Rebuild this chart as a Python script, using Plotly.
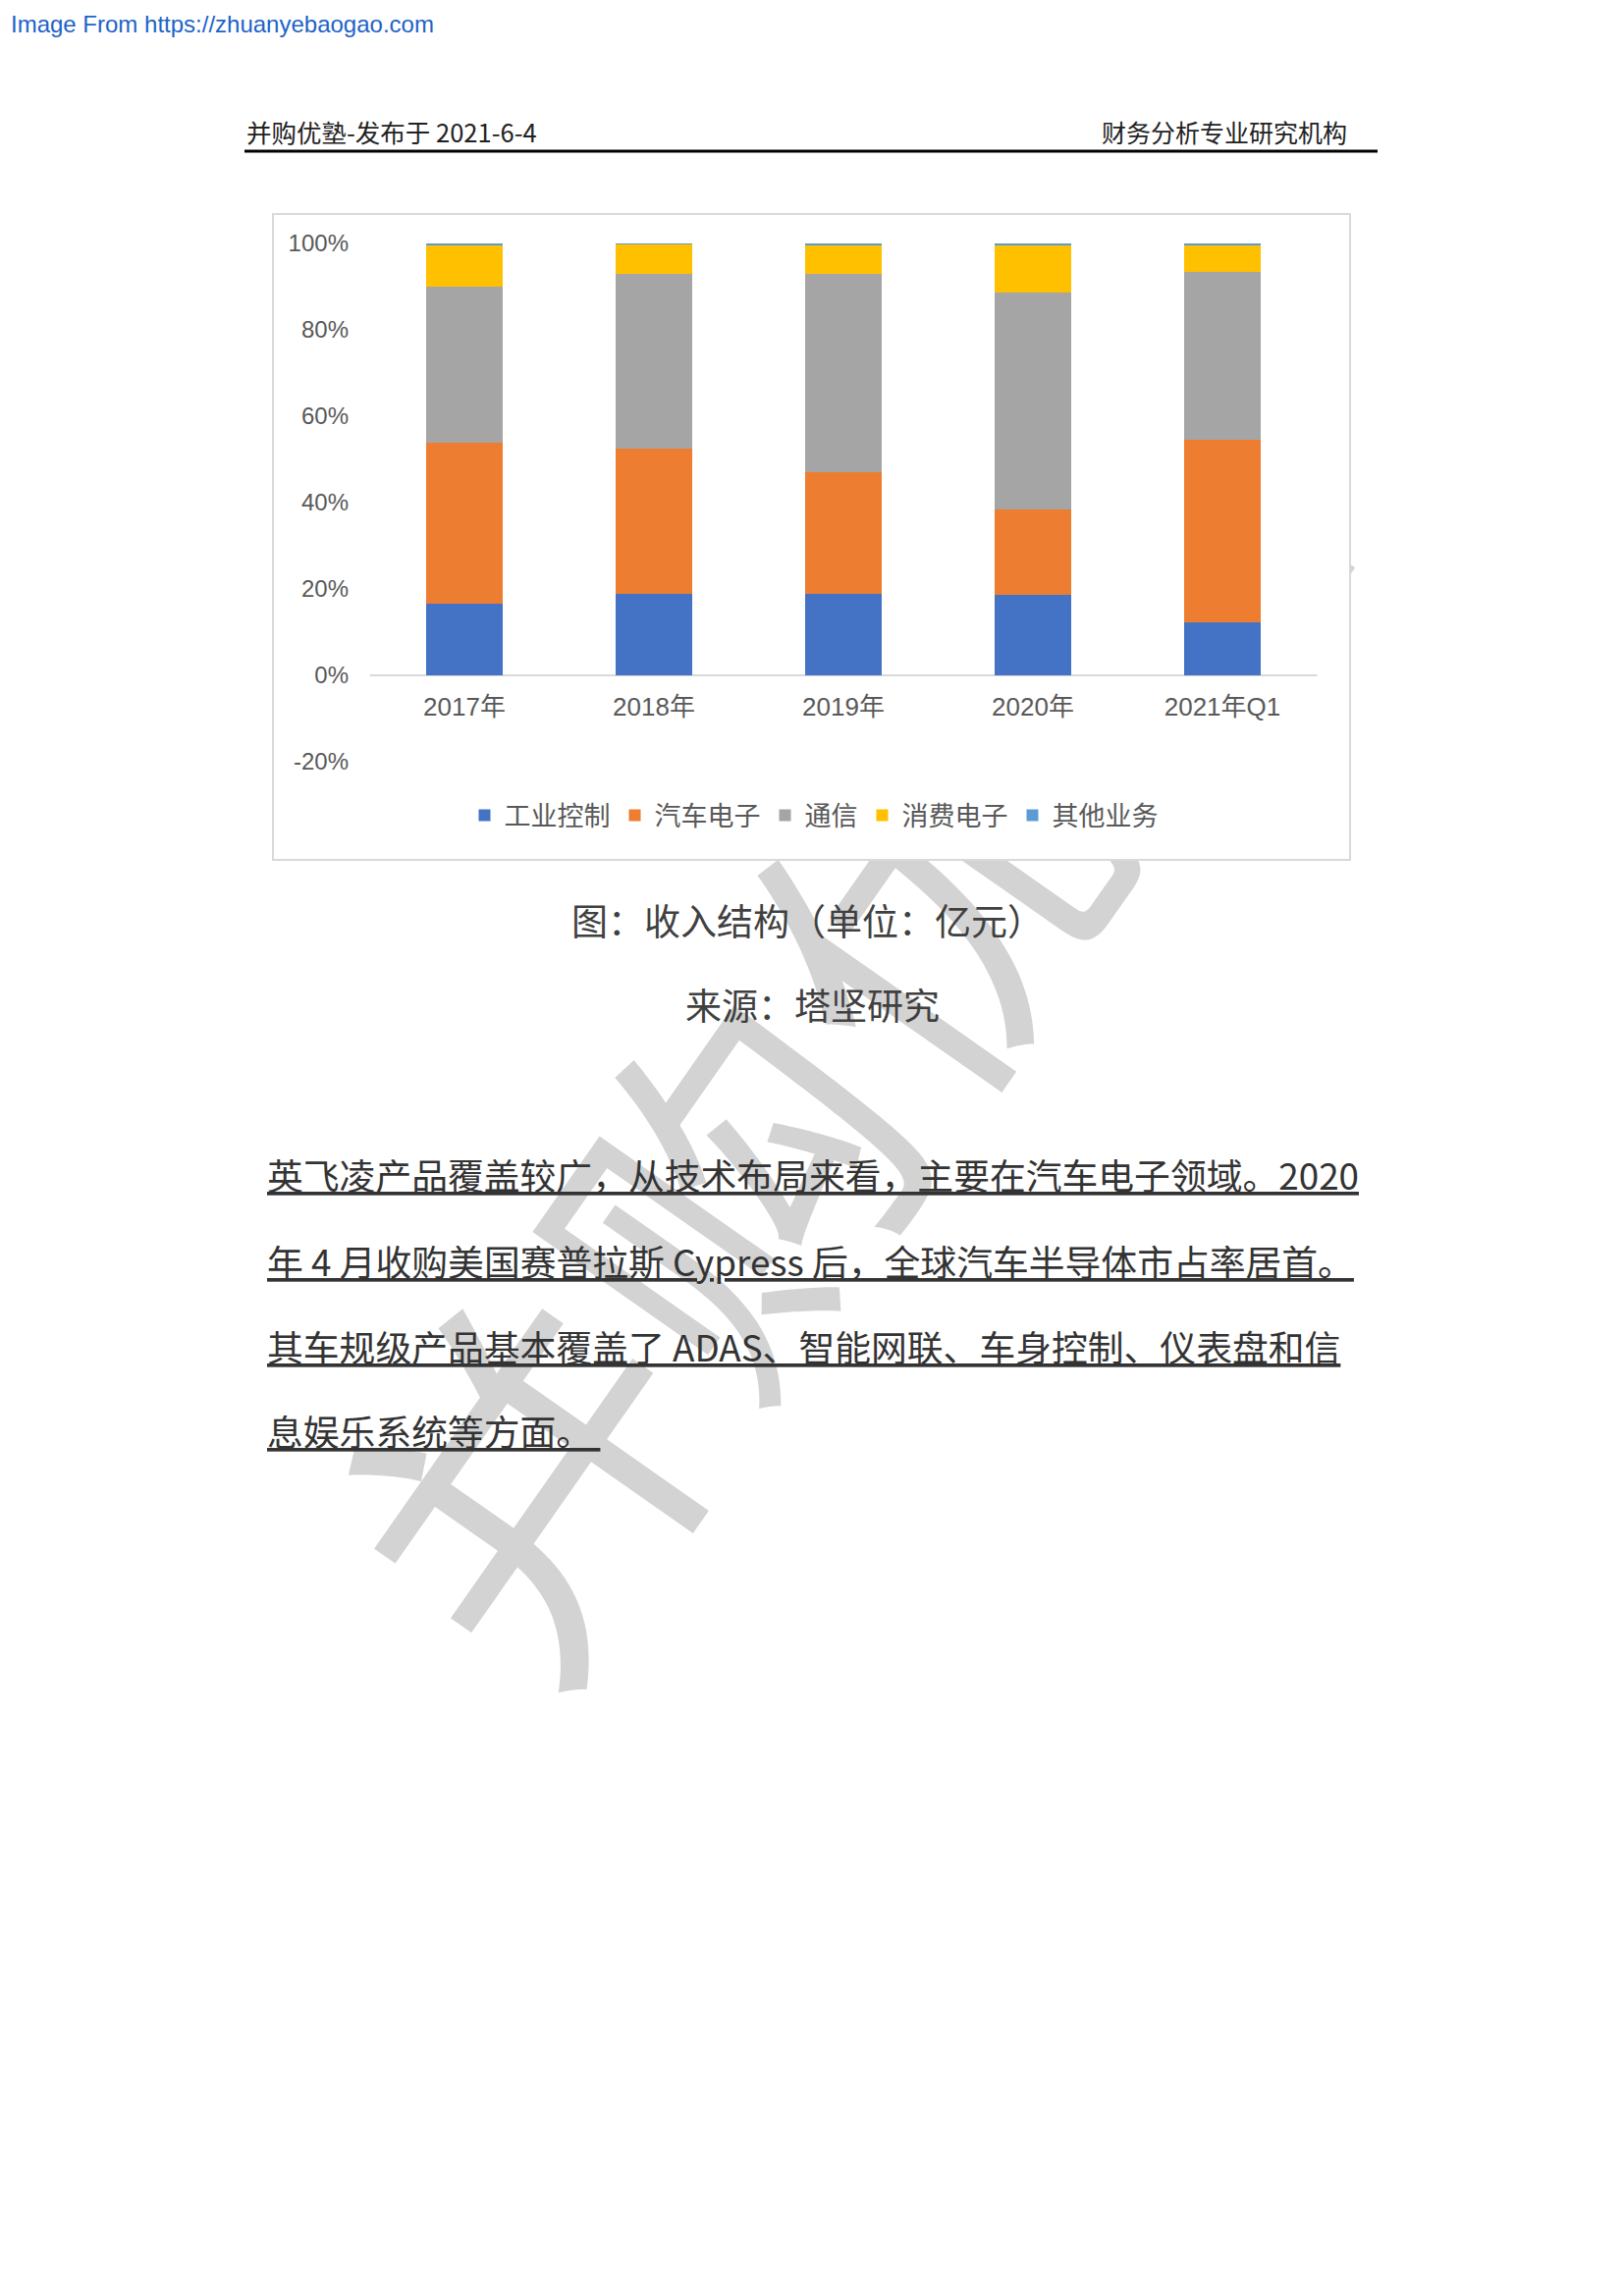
import plotly.graph_objects as go

W, H = 1654, 2339

# ---------------- data ----------------
categories = ["2017年", "2018年", "2019年", "2020年", "2021年Q1"]
series_names = ["工业控制", "汽车电子", "通信", "消费电子", "其他业务"]
industrial = [16.5, 18.9, 18.9, 18.6, 12.3]
automotive = [37.3, 33.7, 28.2, 19.9, 42.2]
communication = [36.3, 40.3, 45.8, 50.2, 38.8]
consumer = [9.6, 6.9, 6.8, 10.9, 6.4]
other = [0.3, 0.2, 0.3, 0.4, 0.3]
series_colors = ["#4472C4", "#ED7D31", "#A5A5A5", "#FFC000", "#5B9BD5"]
y_tick_values = [-20, 0, 20, 40, 60, 80, 100]
y_tick_labels = ["-20%", "0%", "20%", "40%", "60%", "80%", "100%"]

body_lines = [
    "英飞凌产品覆盖较广，从技术布局来看，主要在汽车电子领域。2020",
    "年 4 月收购美国赛普拉斯 Cypress 后，全球汽车半导体市占率居首。",
    "其车规级产品基本覆盖了 ADAS、智能网联、车身控制、仪表盘和信",
    "息娱乐系统等方面。 ",
]
watermark_text = "并购优塾"

# ---------------- page geometry helpers ----------------
# the page is shown with the browser's default 8px body margin
X_OFF = 8.0
Y_OFF = 8.0


def xi(t):
    return t - X_OFF


def yi(t):
    return t - Y_OFF


def px(t):
    return xi(t) / W


def py(t):
    return 1 - yi(t) / H


BOX_L, BOX_T, BOX_R, BOX_B = 278, 218, 1375, 876
DOM_L, DOM_T, DOM_R, DOM_B = 274, 214, 1379, 880
CAT0_X, CAT_STEP = 473, 193
Y0_PX, Y100_PX = 688, 248


def cat_u(t):
    return (t - CAT0_X) / CAT_STEP


def pct_u(t):
    return (Y0_PX - t) * 100.0 / (Y0_PX - Y100_PX)


CJK = "Noto Sans CJK SC"
LAT = "Liberation Sans, Noto Sans CJK SC"

fig = go.Figure()

# watermark (page subplot, drawn beneath the chart subplot)
WM_CX, WM_CY, WM_SPAN = 834, 1055, 1700
fig.add_trace(go.Bar(
    x=[xi(WM_CX)], y=[WM_SPAN], base=[yi(WM_CY) - WM_SPAN / 2], width=[WM_SPAN],
    text=[watermark_text], textposition="inside", insidetextanchor="middle",
    textangle=-55, constraintext="none",
    textfont=dict(family=CJK, size=360, color="#D3D3D3"),
    marker=dict(color="rgba(0,0,0,0)", line=dict(width=0)),
    showlegend=False, hoverinfo="skip", xaxis="x", yaxis="y"))

for name, vals, col in zip(series_names,
                           [industrial, automotive, communication, consumer, other],
                           series_colors):
    fig.add_trace(go.Bar(x=categories, y=vals, name=name, marker_color=col,
                         marker_line_width=0, xaxis="x2", yaxis="y2"))

fig.update_layout(
    width=W, height=H,
    margin=dict(l=0, r=0, t=0, b=0),
    paper_bgcolor="white",
    plot_bgcolor="rgba(0,0,0,0)",
    barmode="stack",
    bargap=0.6,
    showlegend=True,
    legend=dict(orientation="h", x=px(829), y=py(831), xanchor="center",
                yanchor="middle", traceorder="normal",
                font=dict(family=CJK, size=27, color="#595959"),
                itemwidth=30, bgcolor="rgba(0,0,0,0)"),
    xaxis=dict(domain=[0, 1], range=[0, W], visible=False, fixedrange=True),
    yaxis=dict(domain=[0, 1], range=[H, 0], visible=False, fixedrange=True),
    xaxis2=dict(domain=[px(DOM_L), px(DOM_R)], range=[cat_u(DOM_L), cat_u(DOM_R)],
                anchor="free", position=py(Y0_PX),
                showgrid=False, showline=False, ticks="", zeroline=False,
                tickfont=dict(family=LAT, size=26, color="#595959"),
                ticklabelstandoff=14),
    yaxis2=dict(domain=[py(DOM_B), py(DOM_T)], range=[pct_u(DOM_B), pct_u(DOM_T)],
                anchor="free", position=px(357), side="left",
                tickvals=y_tick_values, ticktext=y_tick_labels,
                showgrid=False, showline=False, ticks="", zeroline=False,
                tickfont=dict(family=LAT, size=24, color="#595959"),
                ticklabelstandoff=2),
)

shapes = [
    # chart frame (in the chart subplot's own layer, so it hides the watermark)
    dict(type="rect", xref="x2", yref="y2",
         x0=cat_u(BOX_L), x1=cat_u(BOX_R), y0=pct_u(BOX_B), y1=pct_u(BOX_T),
         line=dict(color="#D9D9D9", width=2), fillcolor="white", layer="below"),
    # category axis line at 0
    dict(type="line", xref="x2", yref="y2",
         x0=-0.5, x1=len(categories) - 0.5, y0=0, y1=0,
         line=dict(color="#D9D9D9", width=2), layer="below"),
    # header rule
    dict(type="line", xref="paper", yref="paper",
         x0=px(249), x1=px(1403), y0=py(154), y1=py(154),
         line=dict(color="black", width=3)),
]
fig.update_layout(shapes=shapes)

ann = []
ann.append(dict(text="Image From https://zhuanyebaogao.com", x=px(9), y=py(24),
                xref="paper", yref="paper", xanchor="left", yanchor="middle",
                showarrow=False,
                font=dict(family="Liberation Sans", size=24, color="#1E63C8")))
ann.append(dict(text="并购优塾-发布于 2021-6-4", x=px(249), y=py(134),
                xref="paper", yref="paper", xanchor="left", yanchor="middle",
                showarrow=False, font=dict(family=CJK, size=25.5, color="#222222")))
ann.append(dict(text="财务分析专业研究机构", x=px(1374), y=py(134),
                xref="paper", yref="paper", xanchor="right", yanchor="middle",
                showarrow=False, font=dict(family=CJK, size=25, color="#222222")))
ann.append(dict(text="图：收入结构（单位：亿元）", x=px(822), y=py(937),
                xref="paper", yref="paper", xanchor="center", yanchor="middle",
                showarrow=False, font=dict(family=CJK, size=37, color="#404040")))
ann.append(dict(text="来源：塔坚研究", x=px(827), y=py(1023),
                xref="paper", yref="paper", xanchor="center", yanchor="middle",
                showarrow=False, font=dict(family=CJK, size=37, color="#404040")))
line_y = [1196, 1284, 1371, 1457]
for txt, yy in zip(body_lines, line_y):
    ann.append(dict(text="<u>" + txt + "</u>", x=px(270), y=py(yy),
                    xref="paper", yref="paper", xanchor="left", yanchor="middle",
                    showarrow=False, font=dict(family=CJK, size=36.8, color="#333333")))
fig.update_layout(annotations=ann)

fig.write_html("out.html")
